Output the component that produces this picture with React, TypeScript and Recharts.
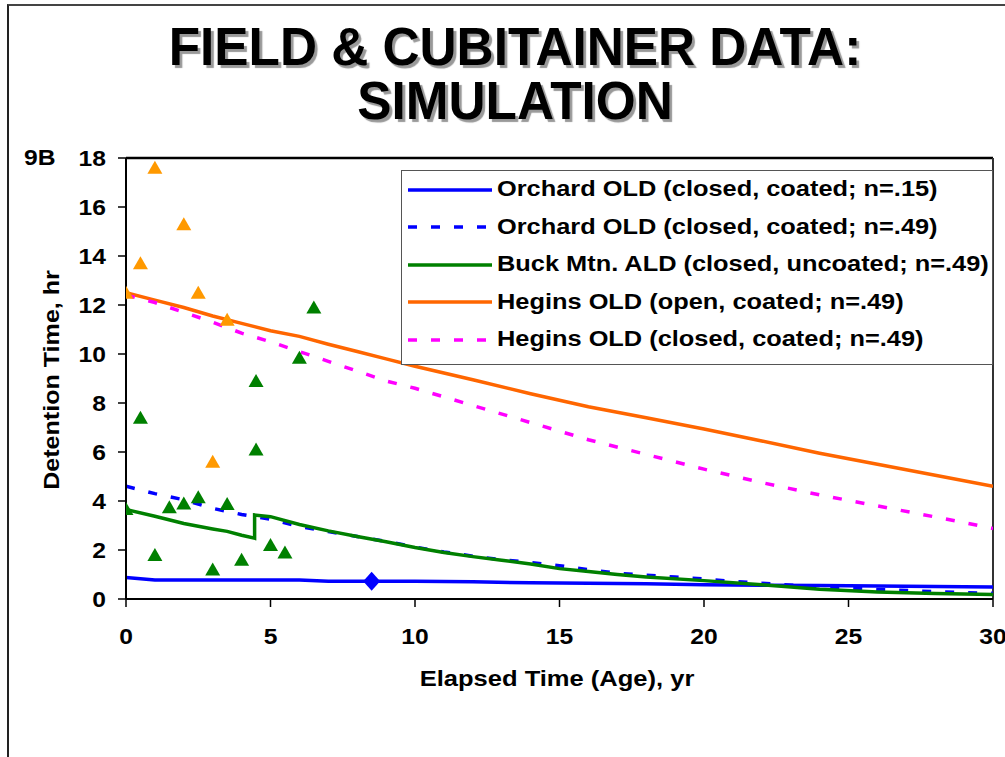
import React from 'react';
import { ComposedChart, Line, Scatter, XAxis, YAxis, ReferenceLine, Legend } from 'recharts';

const xTicks = [0, 5, 10, 15, 20, 25, 30];
const yTicks = [0, 2, 4, 6, 8, 10, 12, 14, 16, 18];

// simulated curves
const orchard15X = [0, 1, 2, 3, 4, 5, 6, 7, 8, 10, 12, 14, 16, 18, 20, 22, 24, 26, 28, 30];
const orchard15Y = [0.88, 0.78, 0.78, 0.78, 0.78, 0.78, 0.78, 0.72, 0.72, 0.72, 0.7, 0.66, 0.64, 0.62, 0.58, 0.56, 0.55, 0.53, 0.51, 0.49];

const orchard49X = [0, 1, 2, 3, 4, 5, 6, 7, 8, 9, 10, 11, 12, 13, 14, 15, 16, 17, 18, 19, 20, 21, 22, 24, 26, 28, 30];
const orchard49Y = [4.6, 4.3, 4.05, 3.7, 3.45, 3.25, 2.96, 2.75, 2.55, 2.35, 2.12, 1.92, 1.75, 1.6, 1.49, 1.36, 1.2, 1.05, 0.97, 0.9, 0.82, 0.72, 0.64, 0.5, 0.39, 0.3, 0.23];

const buckX = [0, 1, 2, 3, 3.5, 4, 4.45, 4.45, 5, 6, 7, 8, 9, 10, 11, 12, 13, 14, 15, 16, 17, 18, 20, 22, 24, 26, 28, 30];
const buckY = [3.65, 3.38, 3.08, 2.86, 2.76, 2.6, 2.48, 3.43, 3.36, 3.04, 2.78, 2.55, 2.34, 2.1, 1.9, 1.73, 1.58, 1.43, 1.24, 1.12, 1.0, 0.9, 0.75, 0.58, 0.4, 0.29, 0.22, 0.18];

const heginsOpenX = [0, 1, 2, 3, 4, 5, 6, 7, 8, 9, 10, 12, 14, 16, 18, 20, 22, 24, 26, 28, 30];
const heginsOpenY = [12.5, 12.2, 11.9, 11.55, 11.25, 10.95, 10.72, 10.4, 10.1, 9.8, 9.5, 8.95, 8.38, 7.85, 7.4, 6.94, 6.45, 5.95, 5.5, 5.05, 4.6];

const heginsClosedX = [0, 1, 2, 3, 4, 5, 6, 7, 8, 9, 10, 12, 14, 16, 18, 20, 22, 24, 26, 28, 30];
const heginsClosedY = [12.4, 12.1, 11.7, 11.3, 10.85, 10.5, 10.1, 9.7, 9.3, 8.9, 8.6, 7.9, 7.2, 6.5, 5.9, 5.3, 4.75, 4.25, 3.8, 3.35, 2.88];

// field / cubitainer observations
const heginsFieldX = [0, 0.5, 1, 2, 2.5, 3, 3.5];
const heginsFieldY = [12.5, 13.7, 17.6, 15.3, 12.5, 5.6, 11.4];
const buckFieldX = [0, 0.5, 1, 1.5, 2, 2.5, 3, 3.5, 4, 4.5, 4.5, 5, 5.5, 6, 6.5];
const buckFieldY = [3.67, 7.4, 1.8, 3.74, 3.9, 4.15, 1.2, 3.88, 1.6, 8.9, 6.1, 2.2, 1.9, 9.85, 11.9];
const orchardFieldX = [8.5];
const orchardFieldY = [0.72];

const pairs = (xs: number[], ys: number[]) => xs.map((x, i) => ({ x, y: ys[i] }));

const series = [
  { name: 'Orchard OLD (closed, coated; n=.15)', color: '#0000FF', dash: undefined, data: pairs(orchard15X, orchard15Y) },
  { name: 'Orchard OLD (closed, coated; n=.49)', color: '#0000FF', dash: '9 14', data: pairs(orchard49X, orchard49Y) },
  { name: 'Buck Mtn. ALD (closed, uncoated; n=.49)', color: '#008000', dash: undefined, data: pairs(buckX, buckY) },
  { name: 'Hegins OLD (open, coated; n=.49)', color: '#FF6600', dash: undefined, data: pairs(heginsOpenX, heginsOpenY) },
  { name: 'Hegins OLD (closed, coated; n=.49)', color: '#FF00FF', dash: '9 14', data: pairs(heginsClosedX, heginsClosedY) },
];

const font = '"Liberation Sans", Arial, sans-serif';

const Triangle = (color: string) => (props: any) => {
  const { cx, cy } = props;
  return <polygon points={`${cx},${cy - 7} ${cx + 7.5},${cy + 6} ${cx - 7.5},${cy + 6}`} fill={color} />;
};

const Diamond = (props: any) => {
  const { cx, cy } = props;
  return <polygon points={`${cx},${cy - 9.5} ${cx + 8.5},${cy} ${cx},${cy + 9.5} ${cx - 8.5},${cy}`} fill="#0000FF" />;
};

const XTick = (props: any) => {
  const { x, y, payload } = props;
  return (
    <g transform={`translate(${x},${y + 35})`}>
      <text x={0} y={0} textAnchor="middle" transform="scale(1.12,1)" fontFamily={font} fontWeight="bold" fontSize={22} fill="#000">
        {payload.value}
      </text>
    </g>
  );
};

const YTick = (props: any) => {
  const { x, y, payload } = props;
  return (
    <g transform={`translate(${x - 10},${y + 8})`}>
      <text x={0} y={0} textAnchor="end" transform="scale(1.12,1)" fontFamily={font} fontWeight="bold" fontSize={22} fill="#000">
        {payload.value}
      </text>
    </g>
  );
};

const renderLegend = () => (
  <div style={{ width: 592, height: 195, boxSizing: 'border-box', border: '1.5px solid #555', background: '#fff' }}>
    {series.map((s) => (
      <div key={s.name} style={{ height: 37.5, display: 'flex', alignItems: 'center', whiteSpace: 'nowrap' }}>
        <svg width={95} height={10} style={{ flex: 'none' }}>
          <line x1={6} y1={5} x2={90} y2={5} stroke={s.color} strokeWidth={3.5} strokeDasharray={s.dash} />
        </svg>
        <span style={{ display: 'inline-block', fontFamily: font, fontWeight: 'bold', fontSize: 21.5, color: '#000', transform: 'scaleX(1.18)', transformOrigin: 'left center' }}>
          {s.name}
        </span>
      </div>
    ))}
  </div>
);

const titleStyle: React.CSSProperties = {
  position: 'absolute',
  left: 0,
  width: 1030,
  height: 54,
  textAlign: 'center',
  fontSize: 54,
  lineHeight: '54px',
  fontWeight: 'bold',
  whiteSpace: 'nowrap',
  transform: 'scaleX(0.95)',
  textShadow: '3px 3px 1px #999',
};

export default function App() {
  return (
    <div style={{ position: 'absolute', left: 0, top: 0, width: 1005, height: 757, background: '#fff', overflow: 'hidden', fontFamily: font }}>
      <div style={{ position: 'absolute', left: 7, top: 4, width: 1100, height: 800, borderLeft: '2px solid #222', borderTop: '2px solid #444' }} />
      <div style={{ ...titleStyle, top: 19 }}>FIELD &amp; CUBITAINER DATA:</div>
      <div style={{ ...titleStyle, top: 73 }}>SIMULATION</div>
      <div style={{ position: 'absolute', left: 24, top: 147, fontSize: 22, lineHeight: '22px', fontWeight: 'bold', transform: 'scaleX(1.12)', transformOrigin: 'left center' }}>9B</div>
      <div style={{ position: 'absolute', left: 52, top: 380, fontSize: 22, lineHeight: '22px', fontWeight: 'bold', whiteSpace: 'nowrap', transform: 'translate(-50%,-50%) rotate(-90deg) scaleX(1.14)' }}>
        Detention Time, hr
      </div>
      <div style={{ position: 'absolute', left: 557, top: 668, fontSize: 22, lineHeight: '22px', fontWeight: 'bold', whiteSpace: 'nowrap', transform: 'translateX(-50%) scaleX(1.16)' }}>
        Elapsed Time (Age), yr
      </div>
      <div style={{ position: 'absolute', left: 0, top: 0 }}>
        <ComposedChart width={1005} height={757} margin={{ top: 158, right: 12, bottom: 98, left: 26 }}>
          <XAxis
            dataKey="x"
            type="number"
            domain={[0, 30]}
            ticks={xTicks}
            allowDataOverflow
            height={60}
            tickSize={8}
            tickMargin={2}
            axisLine={{ stroke: '#000', strokeWidth: 2 }}
            tickLine={{ stroke: '#000', strokeWidth: 1.5 }}
            tick={<XTick />}
          />
          <YAxis
            dataKey="y"
            type="number"
            domain={[0, 18]}
            ticks={yTicks}
            allowDataOverflow
            width={100}
            tickSize={8}
            tickMargin={2}
            axisLine={{ stroke: '#000', strokeWidth: 2 }}
            tickLine={{ stroke: '#000', strokeWidth: 1.5 }}
            tick={<YTick />}
          />
          <ReferenceLine y={18} stroke="#000" strokeWidth={2.5} />
          <ReferenceLine x={30} stroke="#333" strokeWidth={2} />
          {series.map((s) => (
            <Line
              key={s.name}
              data={s.data}
              dataKey="y"
              name={s.name}
              type="linear"
              stroke={s.color}
              strokeWidth={3.5}
              strokeDasharray={s.dash}
              dot={false}
              activeDot={false}
              isAnimationActive={false}
            />
          ))}
          <Scatter data={pairs(heginsFieldX, heginsFieldY)} dataKey="y" shape={Triangle('#FF9900')} legendType="none" isAnimationActive={false} />
          <Scatter data={pairs(buckFieldX, buckFieldY)} dataKey="y" shape={Triangle('#008000')} legendType="none" isAnimationActive={false} />
          <Scatter data={pairs(orchardFieldX, orchardFieldY)} dataKey="y" shape={Diamond} legendType="none" isAnimationActive={false} />
          <Legend
            layout="horizontal"
            align="center"
            verticalAlign="middle"
            content={renderLegend}
            wrapperStyle={{ left: 401, top: 170, width: 592, height: 195 }}
          />
        </ComposedChart>
      </div>
    </div>
  );
}
